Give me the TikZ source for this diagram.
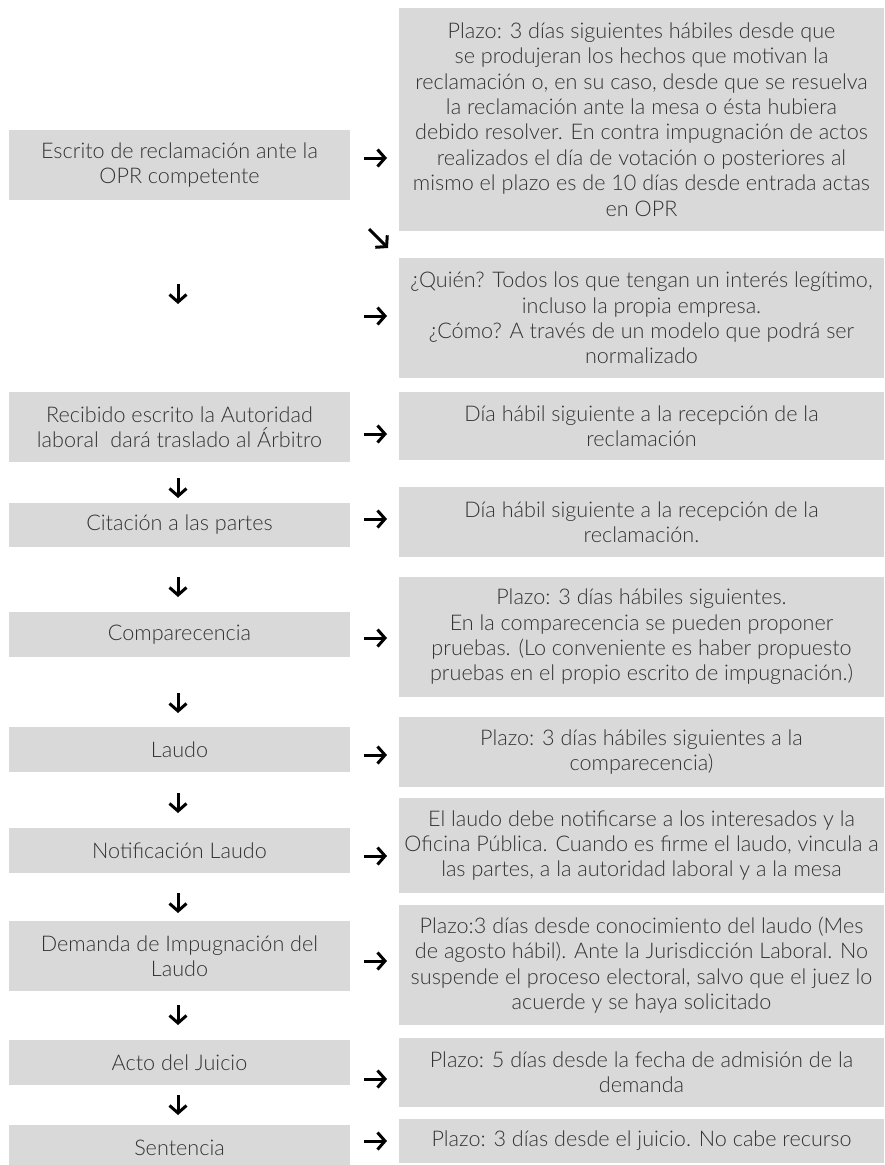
\documentclass[tikz,border=0pt]{standalone}
\usepackage{fontspec}
\setmainfont{Lato}[UprightFont=* Light]
\usetikzlibrary{arrows.meta}
\definecolor{boxgray}{HTML}{D9D9D9}
\definecolor{txt}{HTML}{333333}
\begin{document}
\begin{tikzpicture}[x=1pt,y=-1pt,
  base/.style={fill=boxgray, draw=none, inner sep=0pt, align=center, text=txt,
    font=\fontsize{21.6}{25.4}\selectfont},
  lbox/.style={base, minimum width=341pt},
  rbox/.style={base, minimum width=485pt},
  arr/.style={line width=3pt, -{Straight Barb[length=7.5pt,width=17pt]}}]
\useasboundingbox (0,0) rectangle (885,1165);
% left column
\node[lbox, minimum height=70pt] (L1) at (179.5,165) {Escrito de reclamación ante la\\OPR competente};
\node[lbox, minimum height=70pt] (L2) at (179.5,427) {Recibido escrito la Autoridad\\laboral \ dará traslado al Árbitro};
\node[lbox, minimum height=44pt] (L3) at (179.5,525) {Citación a las partes};
\node[lbox, minimum height=45pt] (L4) at (179.5,634.5) {Comparecencia};
\node[lbox, minimum height=45pt] (L5) at (179.5,749.5) {Laudo};
\node[lbox, minimum height=45pt] (L6) at (179.5,850.5) {Notificación Laudo};
\node[lbox, minimum height=70pt] (L7) at (179.5,956) {Demanda de Impugnación del\\Laudo};
\node[lbox, minimum height=45pt] (L8) at (179.5,1062.5) {Acto del Juicio};
\node[lbox, minimum height=45pt] (L9) at (179.5,1147.5) {Sentencia};
% right column
\node[rbox, minimum height=223pt] (R1) at (641.5,119.5) {Plazo: 3 días siguientes hábiles desde que\\se produjeran los hechos que motivan la\\reclamación o, en su caso, desde que se resuelva\\la reclamación ante la mesa o ésta hubiera\\debido resolver. En contra impugnación de actos\\realizados el día de votación o posteriores al\\mismo el plazo es de 10 días desde entrada actas\\en OPR};
\node[rbox, minimum height=120pt] (R2) at (641.5,318) {¿Quién? Todos los que tengan un interés legítimo,\\incluso la propia empresa.\\¿Cómo? A través de un modelo que podrá ser\\normalizado};
\node[rbox, minimum height=68pt] (R3) at (641.5,426) {Día hábil siguiente a la recepción de la\\reclamación};
\node[rbox, minimum height=70pt] (R4) at (641.5,522) {Día hábil siguiente a la recepción de la\\reclamación.};
\node[rbox, minimum height=120pt] (R5) at (641.5,637) {Plazo: 3 días hábiles siguientes.\\En la comparecencia se pueden proponer\\pruebas. (Lo conveniente es haber propuesto\\pruebas en el propio escrito de impugnación.)};
\node[rbox, minimum height=70pt] (R6) at (641.5,752) {Plazo: 3 días hábiles siguientes a la\\comparecencia)};
\node[rbox, minimum height=95pt] (R7) at (641.5,845.5) {El laudo debe notificarse a los interesados y la\\Oficina Pública. Cuando es firme el laudo, vincula a\\las partes, a la autoridad laboral y a la mesa};
\node[rbox, minimum height=120pt] (R8) at (641.5,965) {Plazo:3 días desde conocimiento del laudo (Mes\\de agosto hábil). Ante la Jurisdicción Laboral. No\\suspende el proceso electoral, salvo que el juez lo\\acuerde y se haya solicitado};
\node[rbox, minimum height=69pt] (R9) at (641.5,1072.5) {Plazo: 5 días desde la fecha de admisión de la\\demanda};
\node[rbox, minimum height=44pt] (R10) at (641.5,1141) {Plazo: 3 días desde el juicio. No cabe recurso};
% arrow coordinates
\foreach \n/\y in {1/158,2/316,3/434,4/519,5/638,6/755,7/856,8/961,9/1079,10/1141}{
  \coordinate (h\n s) at (364,\y);
  \coordinate (h\n e) at (387,\y);
  \draw[arr] (h\n s) -- (h\n e);
}
\foreach \n/\y in {1/294,2/488,3/587,4/703,5/803,6/903,7/1015,8/1105}{
  \coordinate (v\n s) at (178,\y-10);
  \coordinate (v\n e) at (178,\y+10);
  \draw[arr] (v\n s) -- (v\n e);
}
\coordinate (ds) at (369,229);
\coordinate (de) at (388,248);
\draw[arr] (ds) -- (de);
\end{tikzpicture}
\end{document}
